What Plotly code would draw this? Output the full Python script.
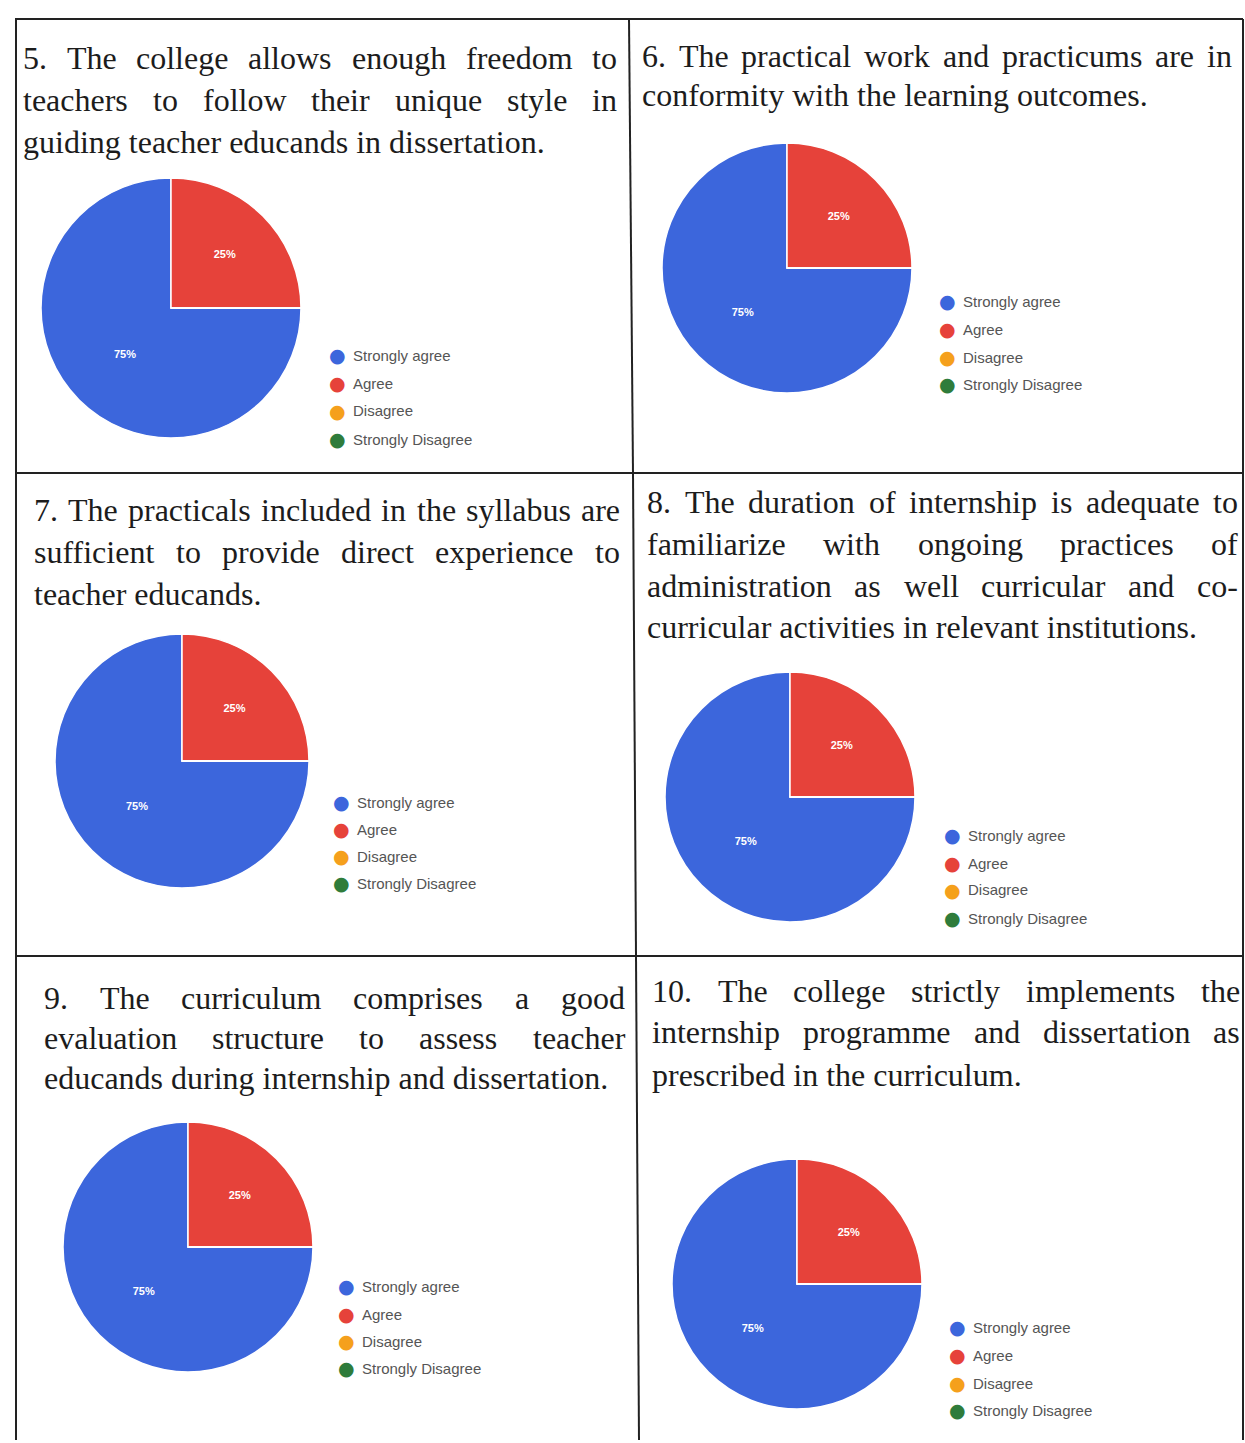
import plotly.graph_objects as go

W, H = 1245, 1443

# response categories and the share of each answer per question (%)
CATEGORIES = ["Strongly agree", "Agree", "Disagree", "Strongly Disagree"]
COLORS = ["#3c66dc", "#e6423a", "#f5a01c", "#2f7c3b"]

Q5_VALUES = [75, 25, 0, 0]
Q6_VALUES = [75, 25, 0, 0]
Q7_VALUES = [75, 25, 0, 0]
Q8_VALUES = [75, 25, 0, 0]
Q9_VALUES = [75, 25, 0, 0]
Q10_VALUES = [75, 25, 0, 0]

Q5_TEXT = ["5. The college allows enough freedom to",
           "teachers to follow their unique style in",
           "guiding teacher educands in dissertation."]
Q6_TEXT = ["6. The practical work and practicums are in",
           "conformity with the learning outcomes."]
Q7_TEXT = ["7. The practicals included in the syllabus are",
           "sufficient to provide direct experience to",
           "teacher educands."]
Q8_TEXT = ["8. The duration of internship is adequate to",
           "familiarize with ongoing practices of",
           "administration as well curricular and co-",
           "curricular activities in relevant institutions."]
Q9_TEXT = ["9. The curriculum comprises a good",
           "evaluation structure to assess teacher",
           "educands during internship and dissertation."]
Q10_TEXT = ["10. The college strictly implements the",
            "internship programme and dissertation as",
            "prescribed in the curriculum."]

# panel placement in page pixels: text box (left, right, line ys),
# pie centre/radius, legend origin
panels = [
    dict(values=Q5_VALUES, text=Q5_TEXT, tl=21, tr=615, ty=[58, 100, 142],
         cx=171, cy=308, r=130, lx=337, ly=[355, 383, 411, 439]),
    dict(values=Q6_VALUES, text=Q6_TEXT, tl=640, tr=1230, ty=[56, 95],
         cx=787, cy=268, r=125, lx=947, ly=[301, 329, 357, 384]),
    dict(values=Q7_VALUES, text=Q7_TEXT, tl=32, tr=618, ty=[510, 552, 594],
         cx=182, cy=761, r=127, lx=341, ly=[802, 829, 856, 883]),
    dict(values=Q8_VALUES, text=Q8_TEXT, tl=645, tr=1236, ty=[502, 544, 586, 627],
         cx=790, cy=797, r=125, lx=952, ly=[835, 863, 890, 918]),
    dict(values=Q9_VALUES, text=Q9_TEXT, tl=42, tr=623, ty=[998, 1038, 1078],
         cx=188, cy=1247, r=125, lx=346, ly=[1286, 1314, 1341, 1368]),
    dict(values=Q10_VALUES, text=Q10_TEXT, tl=650, tr=1238, ty=[991, 1032, 1075],
         cx=797, cy=1284, r=125, lx=957, ly=[1327, 1355, 1383, 1410]),
]

TEXT_SIZE = 32
TEXT_FONT = dict(family="Liberation Serif", size=TEXT_SIZE, color="#1c1c1c")

# Times-Roman advance widths (per 1000 em) to justify lines like the printed page
_W = dict(zip("abcdefghijklmnopqrstuvwxyz",
              [444, 500, 444, 500, 444, 333, 500, 500, 278, 278, 500, 278, 778,
               500, 500, 500, 500, 333, 389, 278, 500, 500, 722, 500, 500, 444]))
_W.update(dict(zip("ABCDEFGHIJKLMNOPQRSTUVWXYZ",
                   [722, 667, 667, 722, 611, 556, 722, 722, 333, 389, 722, 611, 889,
                    722, 722, 556, 722, 667, 556, 611, 722, 722, 944, 722, 722, 611])))
_W.update({".": 250, ",": 250, "-": 333, " ": 250})
_W.update({d: 500 for d in "0123456789"})


def word_width(w):
    return sum(_W.get(ch, 500) for ch in w) * TEXT_SIZE / 1000


def px(x):
    return x / W


def py(y):
    return 1 - y / H


fig = go.Figure()
annotations = []

for p in panels:
    fig.add_trace(go.Pie(
        labels=CATEGORIES,
        values=p["values"],
        marker=dict(colors=COLORS, line=dict(color="white", width=1.5)),
        sort=False,
        direction="clockwise",
        rotation=90,
        texttemplate=["%{percent:.0%}" if v > 0 else "" for v in p["values"]],
        textposition="inside",
        insidetextfont=dict(color="white", size=11, family="Arial", weight="bold"),
        showlegend=False,
        hoverinfo="label+percent",
        domain=dict(x=[px(p["cx"] - p["r"]), px(p["cx"] + p["r"])],
                    y=[py(p["cy"] + p["r"]), py(p["cy"] - p["r"])]),
    ))

    # question text, justified except for the last line
    n_lines = len(p["text"])
    for i, line in enumerate(p["text"]):
        y = py(p["ty"][i])
        words = line.split()
        if i == n_lines - 1 or len(words) < 2:
            annotations.append(dict(x=px(p["tl"]), y=y, xref="paper", yref="paper",
                                    text=line, showarrow=False, xanchor="left",
                                    yanchor="middle", font=TEXT_FONT))
            continue
        widths = [word_width(w) for w in words]
        gap = (p["tr"] - p["tl"] - sum(widths)) / (len(words) - 1)
        x = p["tl"]
        for w, ww in zip(words, widths):
            annotations.append(dict(x=px(x), y=y, xref="paper", yref="paper",
                                    text=w, showarrow=False, xanchor="left",
                                    yanchor="middle", font=TEXT_FONT))
            x += ww + gap

    # Google-Forms style legend
    for cat, col, ly in zip(CATEGORIES, COLORS, p["ly"]):
        annotations.append(dict(
            x=px(p["lx"]), y=py(ly), xref="paper", yref="paper",
            text="●", showarrow=False, xanchor="center", yanchor="middle",
            font=dict(family="DejaVu Sans", size=19, color=col),
        ))
        annotations.append(dict(
            x=px(p["lx"] + 14), y=py(ly), xref="paper", yref="paper",
            text=cat, showarrow=False, xanchor="left", yanchor="middle",
            font=dict(family="Arial", size=15, color="#555555"),
        ))

# table borders
line_style = dict(color="#222222", width=2)
borders = [
    (15, 19, 1243, 19),
    (16, 19, 16, 1440),
    (1243, 19, 1243, 1440),
    (16, 473, 1243, 473),
    (16, 956, 1243, 956),
    (629, 19, 633, 473),
    (633, 473, 636, 956),
    (636, 956, 639, 1440),
]
shapes = [dict(type="line", xref="paper", yref="paper",
               x0=px(a), y0=py(b), x1=px(c), y1=py(d), line=line_style)
          for a, b, c, d in borders]

fig.update_layout(
    width=W,
    height=H,
    margin=dict(l=0, r=0, t=0, b=0),
    paper_bgcolor="white",
    plot_bgcolor="white",
    annotations=annotations,
    shapes=shapes,
)

fig.write_html("out.html", config={"displayModeBar": False},
               post_script="document.body.style.margin='0';")
